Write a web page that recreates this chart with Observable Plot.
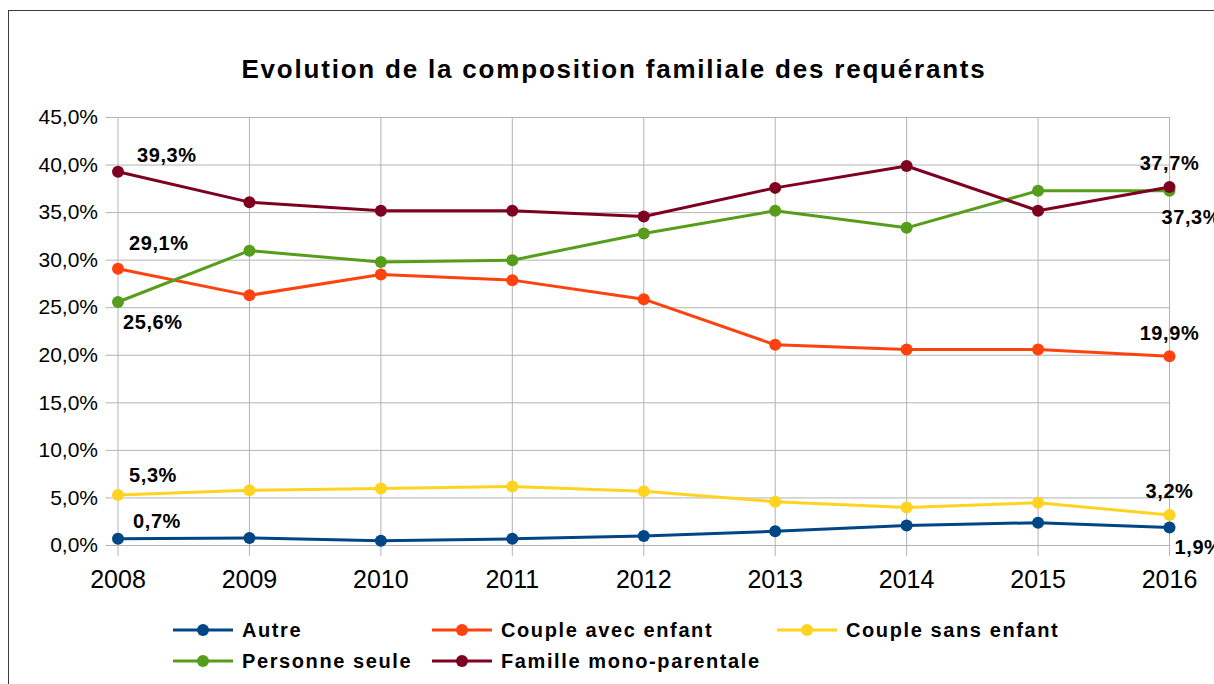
<!DOCTYPE html>
<html><head><meta charset="utf-8">
<script src="https://cdn.jsdelivr.net/npm/d3@7"></script>
<script src="https://cdn.jsdelivr.net/npm/@observablehq/plot@0.6"></script>
<style>
body{margin:0;background:#fff;}
#wrap{position:relative;width:1214px;height:684px;overflow:hidden;font-family:"Liberation Sans",Arial,sans-serif;background:#fff;}
#frame{position:absolute;left:8px;top:10px;width:1400px;height:900px;border:1px solid #3a3a3a;}
#chart{position:absolute;left:0;top:0;}
#overlay{position:absolute;left:0;top:0;}
</style></head><body>
<div id="wrap"><div id="frame"></div><div id="chart"></div><svg id="overlay" width="1214" height="684"></svg></div>
<script>
const years = [2008, 2009, 2010, 2011, 2012, 2013, 2014, 2015, 2016];
const seriesNames = ["Autre", "Couple avec enfant", "Couple sans enfant", "Personne seule", "Famille mono-parentale"];
const seriesColors = ["#004586", "#ff420e", "#ffd320", "#579d1c", "#7e0021"];
const autre = [0.7, 0.8, 0.5, 0.7, 1.0, 1.5, 2.1, 2.4, 1.9];
const coupleAvecEnfant = [29.1, 26.3, 28.5, 27.9, 25.9, 21.1, 20.6, 20.6, 19.9];
const coupleSansEnfant = [5.3, 5.8, 6.0, 6.2, 5.7, 4.6, 4.0, 4.5, 3.2];
const personneSeule = [25.6, 31.0, 29.8, 30.0, 32.8, 35.2, 33.4, 37.3, 37.3];
const familleMono = [39.3, 36.1, 35.2, 35.2, 34.6, 37.6, 39.9, 35.2, 37.7];
const yTicks = [0, 5, 10, 15, 20, 25, 30, 35, 40, 45];
const titleText = "Evolution de la composition familiale des requérants";

const seriesValues = [autre, coupleAvecEnfant, coupleSansEnfant, personneSeule, familleMono];
const data = seriesNames.flatMap((s, i) => years.map((y, j) => ({series: s, year: y, value: seriesValues[i][j]})));
const fmt = v => v.toFixed(1).replace(".", ",") + "%";

// label placement (style): series index, year, anchor, dx, dy
const labelSpec = [
  [4, 2008, "start", 19, -16], [1, 2008, "start", 11, -25], [3, 2008, "start", 5, 21],
  [2, 2008, "start", 11, -19], [0, 2008, "start", 15, -17],
  [4, 2016, "middle", 0, -23], [3, 2016, "start", -8, 27], [1, 2016, "middle", 0, -23],
  [2, 2016, "middle", 0, -23], [0, 2016, "start", 5, 20]
];

const seriesMarks = seriesNames.flatMap(s => {
  const d = data.filter(r => r.series === s);
  return [
    Plot.line(d, {x: "year", y: "value", stroke: "series", strokeWidth: 3}),
    Plot.dot(d, {x: "year", y: "value", fill: "series", r: 6})
  ];
});
const labelMarks = labelSpec.map(([si, yr, anchor, dx, dy]) => {
  const d = data.filter(r => r.series === seriesNames[si] && r.year === yr);
  return Plot.text(d, {x: "year", y: "value", text: r => fmt(r.value), textAnchor: anchor, lineAnchor: "middle",
    dx, dy, fontSize: 20, fontWeight: "bold", fill: "#000"});
});

const plot = Plot.plot({
  width: 1214, height: 684,
  marginLeft: 117.5, marginRight: 45, marginTop: 117, marginBottom: 139,
  style: {fontFamily: "'Liberation Sans', Arial, sans-serif", color: "#000", background: "transparent", overflow: "visible"},
  x: {domain: [2008, 2016]},
  y: {domain: [0, 45]},
  color: {domain: seriesNames, range: seriesColors},
  marks: [
    Plot.gridY(yTicks, {stroke: "#b3b3b3", strokeOpacity: 1, strokeWidth: 1}),
    Plot.gridX(years, {stroke: "#b3b3b3", strokeOpacity: 1, strokeWidth: 1}),
    Plot.axisY(yTicks, {tickSize: 12, tickPadding: 8, tickFormat: fmt, fontSize: 21, stroke: "#b3b3b3", fill: "#000", label: null}),
    Plot.axisX(years, {tickSize: 11, tickPadding: 14, tickFormat: d => String(d), fontSize: 25, stroke: "#b3b3b3", fill: "#000", label: null}),
    ...seriesMarks,
    ...labelMarks
  ]
});
document.getElementById("chart").appendChild(plot);
plot.querySelectorAll('g[aria-label="text"] text').forEach(t => t.style.letterSpacing = "0.6px");

// title and legend
const ov = d3.select("#overlay").style("font-family", "'Liberation Sans', Arial, sans-serif");
ov.append("text").attr("x", 614).attr("y", 78).attr("text-anchor", "middle")
  .attr("font-size", 26).attr("font-weight", "bold").attr("letter-spacing", "1.8px").attr("fill", "#000").text(titleText);

const legendPos = [[173, 630], [432, 630], [777, 630], [173, 661], [432, 661]];
seriesNames.forEach((s, i) => {
  const [x0, y0] = legendPos[i];
  const g = ov.append("g");
  g.append("line").attr("x1", x0).attr("x2", x0 + 60).attr("y1", y0).attr("y2", y0)
    .attr("stroke", seriesColors[i]).attr("stroke-width", 3);
  g.append("circle").attr("cx", x0 + 30).attr("cy", y0).attr("r", 6).attr("fill", seriesColors[i]);
  g.append("text").attr("x", x0 + 69).attr("y", y0 + 7).attr("font-size", 20).attr("font-weight", "bold")
    .attr("letter-spacing", "1.6px").attr("fill", "#000").text(s);
});
</script>
</body></html>
